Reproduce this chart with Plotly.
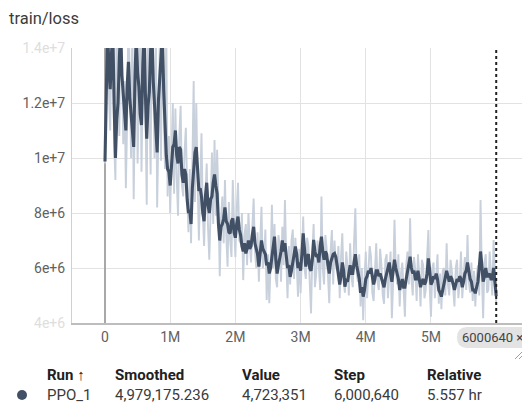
import plotly.graph_objects as go

# ---- data ----
steps = [i * 20000 for i in range(300)] + [6000640]
raw_loss_millions = [
    9.8, 13.0, 17.0, 12.4, 11.0, 14.8, 16.0, 10.6, 9.2, 15.9,
    13.5, 10.8, 16.5, 13.2, 10.5, 12.8, 8.9, 11.4, 15.5, 12.9,
    10.0, 15.2, 8.5, 12.1, 16.8, 9.8, 11.5, 15.0, 9.5, 12.0,
    17.2, 11.9, 8.3, 15.6, 12.5, 9.4, 16.0, 12.8, 10.0, 14.9,
    8.2, 11.0, 14.2, 9.9, 15.8, 12.0, 9.6, 14.6, 8.6, 10.8,
    8.0, 10.1, 12.0, 8.7, 11.8, 9.3, 7.9, 10.8, 11.9, 9.0,
    8.6, 10.2, 11.1, 8.9, 7.3, 9.6, 6.9, 9.7, 12.8, 8.4,
    12.0, 9.2, 7.0, 8.8, 10.9, 8.0, 6.8, 8.6, 9.8, 7.5,
    6.3, 8.1, 10.2, 7.6, 10.65, 7.9, 10.3, 8.4, 5.7, 7.8,
    8.6, 6.9, 9.2, 7.2, 6.05, 8.4, 7.0, 6.4, 9.2, 7.6,
    6.4, 8.1, 9.1, 7.0, 6.9, 8.0, 5.56, 7.2, 7.6, 6.1,
    8.0, 6.9, 6.2, 7.5, 8.53, 6.6, 6.0, 7.3, 5.5, 6.9,
    8.23, 6.0, 6.3, 7.4, 4.84, 6.5, 4.72, 6.2, 8.3, 6.0,
    7.6, 5.6, 5.3, 7.2, 6.8, 5.5, 7.5, 6.1, 8.47, 6.3,
    4.9, 6.8, 5.4, 7.0, 7.4, 5.6, 7.1, 6.2, 4.96, 6.7,
    5.08, 6.4, 7.87, 6.0, 5.6, 7.1, 6.8, 5.5, 4.35, 6.5,
    7.6, 5.3, 5.8, 7.0, 6.3, 5.2, 8.6, 6.0, 5.4, 7.2,
    6.7, 5.6, 4.72, 6.6, 7.38, 5.4, 7.0, 6.1, 5.9, 6.8,
    4.9, 6.4, 7.26, 5.5, 5.1, 6.6, 6.0, 5.0, 6.9, 5.7,
    5.3, 6.9, 8.17, 5.8, 5.5, 6.5, 4.6, 6.0, 4.1, 5.6,
    6.6, 4.9, 5.7, 6.8, 6.4, 5.1, 4.8, 6.2, 6.9, 5.5,
    5.2, 6.7, 6.1, 5.0, 4.7, 6.3, 6.5, 4.9, 5.9, 6.6,
    4.17, 5.5, 7.75, 5.9, 5.4, 6.5, 4.6, 5.8, 6.2, 5.0,
    4.23, 6.1, 6.6, 5.4, 7.81, 5.6, 5.0, 6.4, 5.9, 4.8,
    6.5, 5.7, 4.6, 6.3, 6.1, 4.9, 5.2, 6.4, 7.38, 5.3,
    4.23, 6.0, 6.2, 4.9, 5.6, 6.5, 4.7, 5.8, 4.5, 5.9,
    6.0, 5.0, 6.9, 5.4, 5.0, 6.3, 5.9, 5.1, 4.6, 6.0,
    6.3, 4.9, 5.5, 6.6, 4.9, 5.7, 6.4, 5.2, 7.2, 5.5,
    5.1, 6.2, 4.8, 5.9, 4.6, 5.7, 6.1, 5.0, 8.47, 5.8,
    4.17, 6.2, 6.5, 5.1, 5.2, 6.6, 5.7, 5.0, 7.02, 5.6,
    4.723351,
]
smoothed_loss_millions = [
    9.87, 12.6, 14.8, 13.2, 12.5, 13.8, 14.6, 12.0, 10.0, 11.4,
    12.0, 13.6, 14.7, 13.0, 12.3, 11.5, 11.0, 12.6, 13.5, 12.2,
    11.6, 11.2, 10.4, 12.9, 14.5, 13.1, 12.6, 11.6, 11.2, 13.4,
    14.8, 12.3, 10.7, 11.9, 12.4, 13.9, 14.6, 12.8, 11.8, 10.7,
    10.2, 12.1, 13.0, 14.0, 14.5, 12.5, 11.2, 10.1, 9.6, 9.5,
    9.0, 9.9, 10.4, 10.5, 11.0, 10.1, 9.8, 10.4, 10.3, 9.4,
    9.1, 9.6, 9.4, 8.5, 8.0, 8.1, 7.6, 8.9, 9.6, 10.2,
    10.4, 9.3, 8.8, 8.9, 8.6, 8.0, 7.7, 8.6, 9.1, 8.3,
    8.0, 8.5, 8.6, 9.1, 9.4, 9.0, 8.7, 7.6, 7.0, 7.5,
    7.6, 7.8, 8.2, 7.7, 7.6, 7.3, 7.26, 7.7, 7.8, 7.3,
    7.1, 7.6, 7.87, 7.4, 7.2, 6.8, 6.6, 6.9, 6.53, 6.7,
    7.0, 6.7, 6.8, 7.2, 7.5, 6.9, 6.7, 6.5, 6.05, 6.6,
    7.0, 6.7, 6.6, 6.5, 6.1, 6.2, 5.8, 6.0, 6.4, 6.7,
    7.14, 6.3, 5.8, 6.1, 6.3, 6.6, 7.0, 6.6, 6.9, 6.5,
    6.0, 6.1, 5.68, 5.9, 6.2, 6.4, 6.78, 6.5, 6.0, 6.2,
    5.9, 6.5, 7.26, 6.7, 6.05, 6.4, 6.5, 6.0, 5.9, 6.3,
    7.02, 6.6, 6.4, 6.5, 6.2, 6.8, 7.14, 6.6, 6.3, 6.6,
    6.5, 6.1, 5.8, 6.2, 6.4, 6.5, 6.53, 6.4, 6.1, 5.8,
    5.4, 5.7, 6.2, 5.9, 5.32, 5.6, 5.5, 5.8, 6.1, 5.8,
    5.8, 6.2, 6.5, 6.1, 5.9, 5.6, 5.1, 5.3, 4.96, 5.2,
    5.6, 5.7, 5.9, 5.8, 6.0, 5.7, 5.4, 5.6, 5.9, 5.9,
    5.7, 5.8, 5.6, 5.5, 5.3, 5.6, 5.8, 5.9, 6.2, 5.8,
    5.5, 5.9, 6.3, 6.0, 5.8, 5.6, 5.2, 5.4, 5.6, 5.3,
    5.3, 5.6, 5.9, 6.1, 6.41, 6.0, 5.8, 5.9, 5.6, 5.6,
    5.9, 5.6, 5.3, 5.5, 5.6, 5.4, 5.5, 5.8, 6.35, 5.9,
    5.4, 5.5, 5.7, 5.6, 5.8, 5.6, 5.2, 5.1, 4.96, 5.2,
    5.4, 5.6, 5.9, 5.7, 5.5, 5.7, 5.6, 5.4, 5.2, 5.4,
    5.6, 5.5, 5.7, 5.6, 5.3, 5.5, 5.8, 5.9, 6.2, 5.9,
    5.6, 5.5, 5.2, 5.2, 5.08, 5.3, 5.5, 6.0, 6.6, 6.1,
    5.5, 5.7, 6.0, 5.7, 5.7, 5.8, 5.6, 5.6, 6.0, 5.5,
    4.979175236,
]
raw_loss = [v * 1e6 for v in raw_loss_millions]
smoothed_loss = [v * 1e6 for v in smoothed_loss_millions]

x_tick_vals = [0, 1e6, 2e6, 3e6, 4e6, 5e6]
x_tick_text = ["0", "1M", "2M", "3M", "4M", "5M"]
y_tick_vals = [4e6, 6e6, 8e6, 1e7, 1.2e7, 1.4e7]
y_tick_text = ['<span style="color:#dedede">4e+6</span>', "6e+6", "8e+6", "1e+7", "1.2e+7",
               '<span style="color:#dedede">1.4e+7</span>']

title_text = "train/loss"
headers = ["Run ↑", "Smoothed", "Value", "Step", "Relative"]
row = ["PPO_1", "4,979,175.236", "4,723,351", "6,000,640", "5.557 hr"]
col_x = [45, 113, 240, 332, 425]
chip_text = "6000640 ×"

DARK = "#425066"
LIGHT = "#c8d0dc"
FONT = "Roboto, sans-serif"

# page body has an 8px margin: build the figure in screen coordinates minus that offset
OFF = 8
W, H = 530 - OFF, 417 - OFF
PL, PR, PT, PB = 72, 528, 48, 323   # plot area in screen pixels


def px(x):
    return (x - PL) / (PR - PL)


def py(y):
    return (PB - y) / (PB - PT)


fig = go.Figure()
fig.add_trace(go.Scatter(x=steps, y=raw_loss, mode="lines",
                         line=dict(color=LIGHT, width=1.9), hoverinfo="skip"))
fig.add_trace(go.Scatter(x=steps, y=smoothed_loss, mode="lines",
                         line=dict(color=DARK, width=3.1), hoverinfo="skip"))

shapes = []
shapes.append(dict(type="line", xref="x", yref="paper", x0=steps[-1], x1=steps[-1], y0=0, y1=1,
                   line=dict(color="#222222", width=2, dash="dot")))
cx0, cx1, cy0, cy1, r = 457, 534, 327, 348, 10
path = (f"M {px(cx0 + r)} {py(cy0)} L {px(cx1)} {py(cy0)} L {px(cx1)} {py(cy1)} "
        f"L {px(cx0 + r)} {py(cy1)} Q {px(cx0)} {py(cy1)} {px(cx0)} {py((cy0 + cy1) / 2)} "
        f"Q {px(cx0)} {py(cy0)} {px(cx0 + r)} {py(cy0)} Z")
shapes.append(dict(type="path", xref="paper", yref="paper", path=path,
                   fillcolor="#e3e3e3", line=dict(width=0), layer="above"))
shapes.append(dict(type="line", xref="paper", yref="paper", x0=px(515), y0=py(359), x1=px(522), y1=py(352),
                   line=dict(color="#9e9e9e", width=1)))
shapes.append(dict(type="line", xref="paper", yref="paper", x0=px(519), y0=py(359), x1=px(524), y1=py(354),
                   line=dict(color="#9e9e9e", width=1)))
shapes.append(dict(type="circle", xref="paper", yref="paper", x0=px(17), x1=px(27), y0=py(390), y1=py(400),
                   fillcolor=DARK, line=dict(width=0)))

annotations = []
annotations.append(dict(text=title_text, xref="paper", yref="paper", x=px(7), y=py(19),
                        xanchor="left", yanchor="middle", showarrow=False,
                        font=dict(family=FONT, size=16.5, color="#3c3c3c")))
annotations.append(dict(text=chip_text, xref="paper", yref="paper", x=px(460), y=py(337.5),
                        xanchor="left", yanchor="middle", showarrow=False,
                        font=dict(family=FONT, size=13, color="#444444")))
for label, xx in zip(headers, col_x):
    annotations.append(dict(text=f"<b>{label}</b>", xref="paper", yref="paper", x=px(xx), y=py(375),
                            xanchor="left", yanchor="middle", showarrow=False,
                            font=dict(family=FONT, size=15, color="#212121")))
for label, xx in zip(row, col_x):
    annotations.append(dict(text=label, xref="paper", yref="paper", x=px(xx), y=py(395),
                            xanchor="left", yanchor="middle", showarrow=False,
                            font=dict(family=FONT, size=15, color="#3a3a3a")))

fig.update_layout(
    width=W, height=H,
    margin=dict(l=PL - OFF, r=W - (PR - OFF), t=PT - OFF, b=H - (PB - OFF), pad=0),
    paper_bgcolor="white", plot_bgcolor="white",
    showlegend=False,
    shapes=shapes, annotations=annotations,
    hovermode=False,
    font=dict(family=FONT, color="#616161", size=14),
)
fig.update_xaxes(range=[-0.506e6, 6.488e6], tickvals=x_tick_vals, ticktext=x_tick_text,
                 showgrid=True, gridcolor="#e2e2e2", gridwidth=1,
                 zeroline=True, zerolinecolor="#a8a8a8", zerolinewidth=1.5,
                 showline=True, linecolor="#bdbdbd", linewidth=1.5, mirror=False,
                 ticks="", ticklabelstandoff=0, fixedrange=True)
fig.update_yaxes(range=[4.0e6, 1.4e7], tickvals=y_tick_vals, ticktext=y_tick_text,
                 showgrid=True, gridcolor="#e2e2e2", gridwidth=1,
                 zeroline=False,
                 showline=True, linecolor="#d0d0d0", linewidth=1,
                 ticks="", ticklabelstandoff=3, fixedrange=True)

fig.write_html("out.html", config={"displayModeBar": False})
